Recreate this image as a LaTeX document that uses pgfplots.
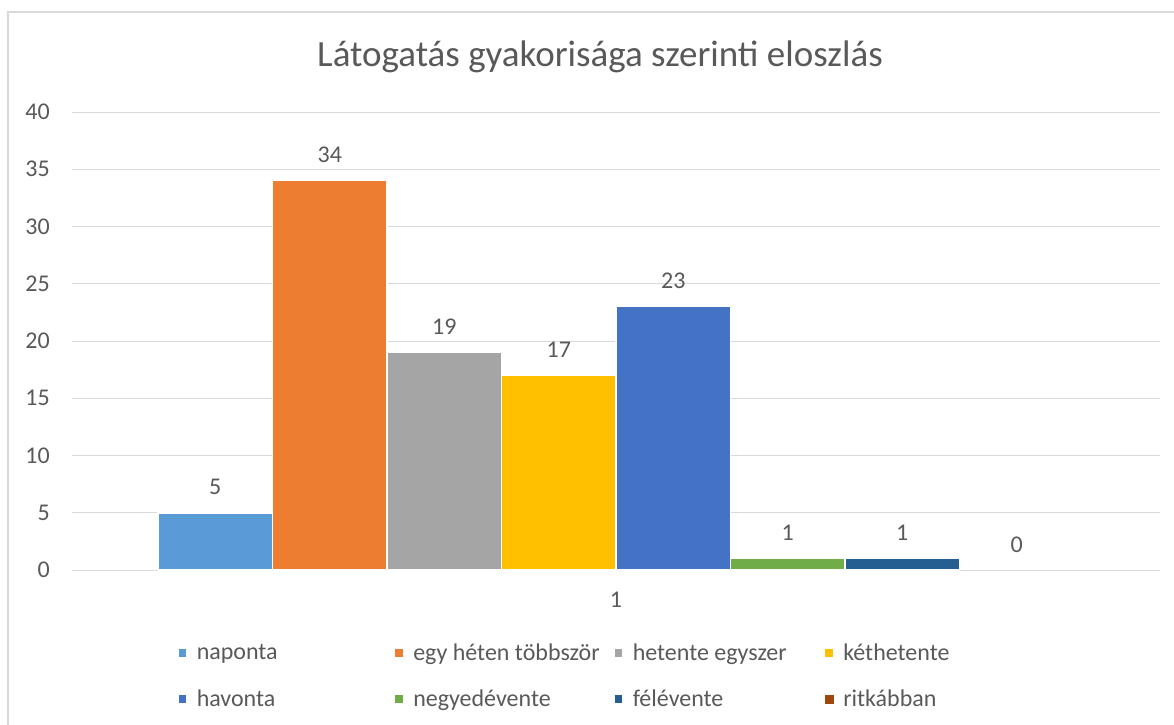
\documentclass[border=0pt]{standalone}
\usepackage{pgfplots}
\pgfplotsset{compat=1.18}
\usepackage{fontspec}
\setmainfont{Carlito}
\definecolor{c1}{HTML}{5B9BD5}
\definecolor{c2}{HTML}{ED7D31}
\definecolor{c3}{HTML}{A5A5A5}
\definecolor{c4}{HTML}{FFC000}
\definecolor{c5}{HTML}{4472C4}
\definecolor{c6}{HTML}{70AD47}
\definecolor{c7}{HTML}{255E91}
\definecolor{c8}{HTML}{9E480E}
\definecolor{txt}{HTML}{595959}
\definecolor{gridc}{HTML}{D9D9D9}
\pgfplotsset{ybar legend/.style={legend image code/.code={\fill[##1] (0pt,-4.5pt) rectangle (9pt,4.5pt);}}}
\begin{document}
\begin{tikzpicture}[x=1pt,y=1pt]
\useasboundingbox (0,0) rectangle (1174,724);
\draw[gridc, line width=2pt] (8,-5) -- (8,712) -- (1180,712);
\node[txt, font=\fontsize{37}{37}\selectfont, anchor=base, inner sep=0pt] at (600,657) {Látogatás gyakorisága szerinti eloszlás};
\begin{axis}[
 at={(72pt,154pt)}, anchor=south west,
 scale only axis, width=1088pt, height=458pt,
 xmin=0.5, xmax=1.5, ymin=0, ymax=40,
 ytick={0,5,...,40}, xtick={1},
 ymajorgrids, major grid style={gridc, line width=1pt},
 axis x line*=bottom, axis y line*=left,
 x axis line style={gridc, line width=1pt},
 y axis line style={draw=none},
 major tick length=0pt,
 ybar=0pt, bar width=114.5pt,
 every axis plot/.append style={draw=white, line width=1.5pt},
 nodes near coords,
 nodes near coords style={font=\fontsize{24}{24}\selectfont, text=txt, anchor=south, inner sep=0pt, yshift=17pt},
 tick label style={font=\fontsize{24}{24}\selectfont, text=txt, inner sep=0pt},
 yticklabel style={xshift=-22pt},
 xticklabel style={yshift=-22pt},
 /pgf/number format/assume math mode=true,
 legend columns=4,
 legend cell align=left,
 legend style={at={(0.0938,-0.2314)}, anchor=west, draw=none, fill=none,
   font=\fontsize{24}{24}\selectfont, text=txt, row sep=28pt,
   nodes={inner sep=0pt},
   /tikz/every odd column/.append style={column sep=9pt}},
]
\addplot[fill=c1] coordinates {(1,5)};
\addplot[fill=c2] coordinates {(1,34)};
\addplot[fill=c3] coordinates {(1,19)};
\addplot[fill=c4] coordinates {(1,17)};
\addplot[fill=c5] coordinates {(1,23)};
\addplot[fill=c6] coordinates {(1,1)};
\addplot[fill=c7] coordinates {(1,1)};
\addplot[fill=none, draw=none, legend image post style={fill=c8}] coordinates {(1,0)};
\legend{\makebox[197pt][l]{naponta},\makebox[200pt][l]{egy héten többször},\makebox[191pt][l]{hetente egyszer},kéthetente,
\makebox[197pt][l]{havonta},\makebox[200pt][l]{negyedévente},\makebox[191pt][l]{félévente},ritkábban}
\end{axis}
\end{tikzpicture}
\end{document}
